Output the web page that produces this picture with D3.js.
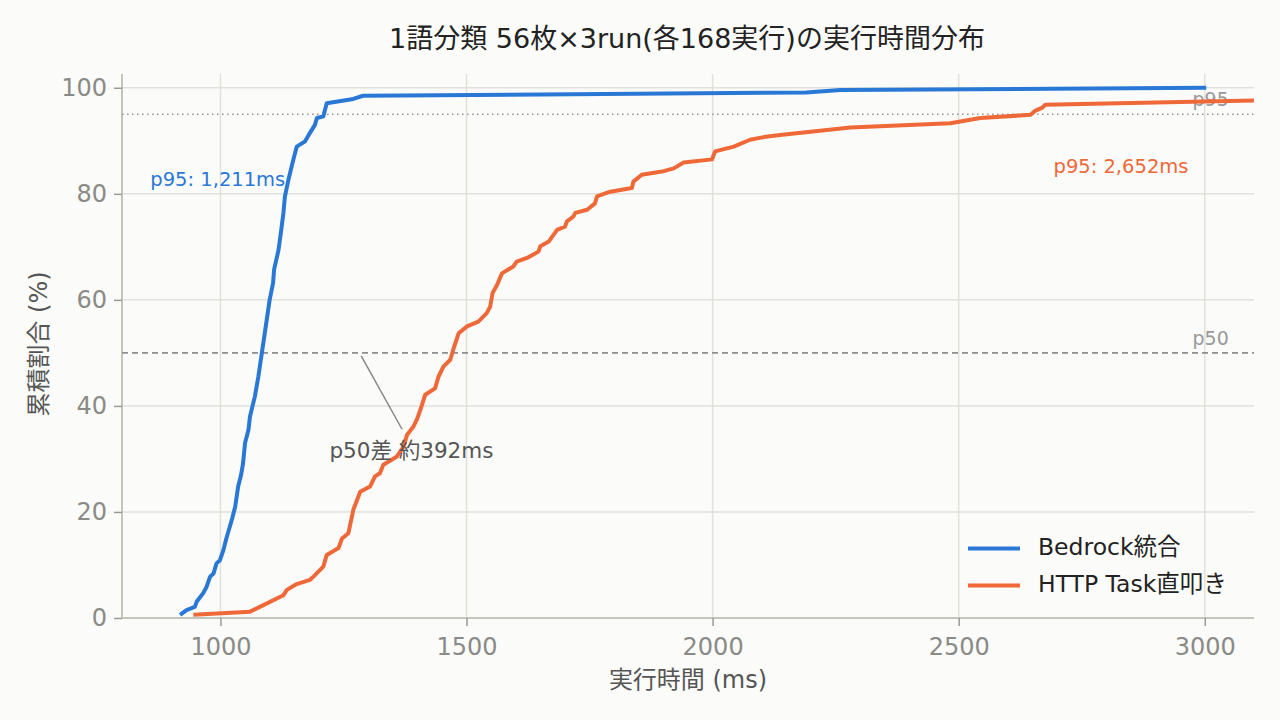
<!DOCTYPE html>
<html>
<head>
<meta charset="utf-8">
<script src="https://cdn.jsdelivr.net/npm/d3@7"></script>
<style>
  html, body { margin: 0; padding: 0; background: #fbfbf9; }
  text { font-family: "DejaVu Sans", "Noto Sans CJK JP", sans-serif; }
</style>
</head>
<body>
<div id="chart"></div>
<script>
// CDF points (ms, cumulative %)
var bedrockMs = [918, 931, 948, 952, 965, 972, 979, 986, 992, 999, 1006, 1012, 1019, 1024, 1030, 1036, 1042, 1046, 1050, 1057, 1060, 1070, 1077, 1084, 1091, 1100, 1107, 1109, 1118, 1124, 1128, 1131, 1138, 1148, 1155, 1172, 1182, 1192, 1196, 1209, 1216, 1270, 1290, 2190, 2260, 3003];
var bedrockPct = [0.6, 1.5, 2.1, 3.1, 4.7, 5.9, 7.8, 8.4, 10.3, 10.9, 12.8, 15.0, 17.2, 18.8, 21.0, 24.8, 27.0, 29.2, 33.0, 35.5, 38.0, 41.8, 45.5, 49.9, 54.3, 60.0, 63.2, 65.7, 69.4, 73.5, 76.4, 79.5, 82.6, 86.4, 88.9, 89.9, 91.5, 93.0, 94.3, 94.6, 97.1, 97.9, 98.5, 99.1, 99.6, 100];

var httpMs = [945, 1060, 1080, 1128, 1135, 1155, 1182, 1189, 1209, 1216, 1240, 1247, 1260, 1270, 1284, 1304, 1314, 1324, 1331, 1358, 1372, 1379, 1392, 1399, 1406, 1416, 1436, 1443, 1453, 1467, 1473, 1484, 1501, 1524, 1541, 1548, 1553, 1562, 1572, 1595, 1602, 1623, 1646, 1650, 1667, 1684, 1700, 1704, 1717, 1721, 1745, 1761, 1765, 1792, 1836, 1839, 1856, 1897, 1921, 1941, 1999, 2005, 2043, 2076, 2104, 2137, 2280, 2483, 2544, 2646, 2656, 2669, 2676, 3100];
var httpPct = [0.6, 1.2, 2.1, 4.3, 5.3, 6.4, 7.2, 7.8, 9.7, 11.9, 13.2, 15.0, 16.0, 20.4, 23.8, 24.8, 26.7, 27.3, 28.9, 30.4, 32.3, 34.5, 36.1, 37.4, 39.2, 42.1, 43.3, 45.5, 47.4, 48.7, 50.6, 53.7, 55.0, 55.9, 57.5, 58.7, 61.3, 62.8, 65.0, 66.3, 67.2, 67.9, 69.1, 70.1, 71.0, 73.2, 73.8, 74.8, 75.7, 76.4, 77.0, 78.2, 79.5, 80.4, 81.1, 82.3, 83.6, 84.2, 84.8, 85.9, 86.5, 88.0, 88.9, 90.2, 90.7, 91.1, 92.5, 93.3, 94.3, 94.9, 95.7, 96.2, 96.8, 97.6];

var seriesNames = ["Bedrock統合", "HTTP Task直叩き"];
var seriesColors = ["#2a78d6", "#ee6838"];
var xTicks = [1000, 1500, 2000, 2500, 3000];
var yTicks = [0, 20, 40, 60, 80, 100];
var p50Ms = [1084, 1476];
var p95Ms = [1211, 2652];

var W = 1280, H = 720;
var margin = { top: 74, right: 26, bottom: 102, left: 122 },
  width = W - margin.left - margin.right,
  height = H - margin.top - margin.bottom;

var svg = d3.select("#chart")
  .append("svg")
  .attr("width", W)
  .attr("height", H);

svg.append("rect")
  .attr("width", W)
  .attr("height", H)
  .attr("fill", "#fbfbf9");

var g = svg.append("g")
  .attr("transform", "translate(" + margin.left + "," + margin.top + ")");

var x = d3.scaleLinear().domain([800, 3100]).range([0, width]);
var y = d3.scaleLinear().domain([0, 102.6]).range([height, 0]);

// grid
g.append("g")
  .selectAll("line")
  .data(xTicks)
  .enter().append("line")
  .attr("x1", function(d) { return x(d); })
  .attr("x2", function(d) { return x(d); })
  .attr("y1", 0)
  .attr("y2", height)
  .attr("stroke", "#e1e1db")
  .attr("stroke-width", 1.5);

g.append("g")
  .selectAll("line")
  .data(yTicks.slice(1))
  .enter().append("line")
  .attr("x1", 0)
  .attr("x2", width)
  .attr("y1", function(d) { return y(d); })
  .attr("y2", function(d) { return y(d); })
  .attr("stroke", "#e1e1db")
  .attr("stroke-width", 1.5);

// axes
var xAxis = g.append("g")
  .attr("transform", "translate(0," + height + ")")
  .call(d3.axisBottom(x).tickValues(xTicks).tickSize(8).tickPadding(12).tickFormat(d3.format("d")));

var yAxis = g.append("g")
  .call(d3.axisLeft(y).tickValues(yTicks).tickSize(8).tickPadding(7).tickFormat(d3.format("d")));

[xAxis, yAxis].forEach(function(a) {
  a.select(".domain").attr("stroke", "#c4c4bc").attr("stroke-width", 2);
  a.selectAll(".tick line").attr("stroke", "#9a9a94").attr("stroke-width", 1.5);
  a.selectAll(".tick text")
    .attr("fill", "#8a8a86")
    .attr("font-size", "24px")
    .attr("font-family", "DejaVu Sans, sans-serif");
});
xAxis.select(".domain").attr("d", "M0,0H" + width);
yAxis.select(".domain").attr("d", "M0,0V" + height);

// reference lines
g.append("line")
  .attr("x1", 0).attr("x2", width)
  .attr("y1", y(95)).attr("y2", y(95))
  .attr("stroke", "#999")
  .attr("stroke-width", 1.6)
  .attr("stroke-dasharray", "1.6,3.4");

g.append("line")
  .attr("x1", 0).attr("x2", width)
  .attr("y1", y(50)).attr("y2", y(50))
  .attr("stroke", "#8f8f8f")
  .attr("stroke-width", 1.6)
  .attr("stroke-dasharray", "6,4");

g.append("text")
  .attr("x", x(3012)).attr("y", y(95) - 8)
  .attr("text-anchor", "middle")
  .attr("font-size", "19px")
  .attr("fill", "#999")
  .text("p95");

g.append("text")
  .attr("x", x(3012)).attr("y", y(50) - 8)
  .attr("text-anchor", "middle")
  .attr("font-size", "19px")
  .attr("fill", "#999")
  .text("p50");

// CDF lines
g.append("clipPath").attr("id", "clip")
  .append("rect").attr("width", width).attr("height", height);

var series = [
  d3.zip(bedrockMs, bedrockPct),
  d3.zip(httpMs, httpPct)
];

var line = d3.line()
  .x(function(d) { return x(d[0]); })
  .y(function(d) { return y(d[1]); });

g.selectAll(".cdf")
  .data(series)
  .enter().append("path")
  .attr("class", "cdf")
  .attr("clip-path", "url(#clip)")
  .attr("d", line)
  .attr("fill", "none")
  .attr("stroke", function(d, i) { return seriesColors[i]; })
  .attr("stroke-width", 4)
  .attr("stroke-linejoin", "round");

// p95 labels
g.append("text")
  .attr("x", x(p95Ms[0]) - 39)
  .attr("y", y(82.6))
  .attr("text-anchor", "end")
  .attr("dominant-baseline", "middle")
  .attr("font-size", "19.5px")
  .attr("fill", seriesColors[0])
  .text("p95: " + d3.format(",")(p95Ms[0]) + "ms");

g.append("text")
  .attr("x", x(p95Ms[1]) + 20)
  .attr("y", y(85))
  .attr("dominant-baseline", "middle")
  .attr("font-size", "19.5px")
  .attr("fill", seriesColors[1])
  .text("p95: " + d3.format(",")(p95Ms[1]) + "ms");

// p50 gap annotation
var midMs = (p50Ms[0] + p50Ms[1]) / 2;
g.append("line")
  .attr("x1", x(midMs + 6)).attr("y1", y(50) + 3)
  .attr("x2", x(midMs + 89)).attr("y2", y(35.6))
  .attr("stroke", "#888")
  .attr("stroke-width", 1.5);

g.append("text")
  .attr("x", x(midMs + 108))
  .attr("y", y(31.4))
  .attr("text-anchor", "middle")
  .attr("dominant-baseline", "middle")
  .attr("font-size", "21.5px")
  .attr("fill", "#555")
  .text("p50差 約" + (p50Ms[1] - p50Ms[0]) + "ms");

// legend
var legend = g.append("g")
  .attr("transform", "translate(846," + y(13.1) + ")");

legend.selectAll("line")
  .data(seriesNames)
  .enter().append("line")
  .attr("x1", 0).attr("x2", 52)
  .attr("y1", function(d, i) { return i * 37; })
  .attr("y2", function(d, i) { return i * 37; })
  .attr("stroke", function(d, i) { return seriesColors[i]; })
  .attr("stroke-width", 4);

legend.selectAll("text")
  .data(seriesNames)
  .enter().append("text")
  .attr("x", 70)
  .attr("y", function(d, i) { return i * 37; })
  .attr("dominant-baseline", "middle")
  .attr("font-size", "23.5px")
  .attr("fill", "#222")
  .text(function(d) { return d; });

// titles
svg.append("text")
  .attr("x", 687)
  .attr("y", 40)
  .attr("text-anchor", "middle")
  .attr("dominant-baseline", "middle")
  .attr("font-size", "27px")
  .attr("font-family", "Noto Sans CJK JP, sans-serif")
  .attr("fill", "#222")
  .text("1語分類 56枚×3run(各168実行)の実行時間分布");

svg.append("text")
  .attr("x", 688)
  .attr("y", 681)
  .attr("text-anchor", "middle")
  .attr("dominant-baseline", "middle")
  .attr("font-size", "24px")
  .attr("fill", "#555")
  .text("実行時間 (ms)");

svg.append("text")
  .attr("transform", "translate(40,344)rotate(-90)")
  .attr("text-anchor", "middle")
  .attr("dominant-baseline", "middle")
  .attr("font-size", "24px")
  .attr("fill", "#555")
  .text("累積割合 (%)");
</script>
</body>
</html>
